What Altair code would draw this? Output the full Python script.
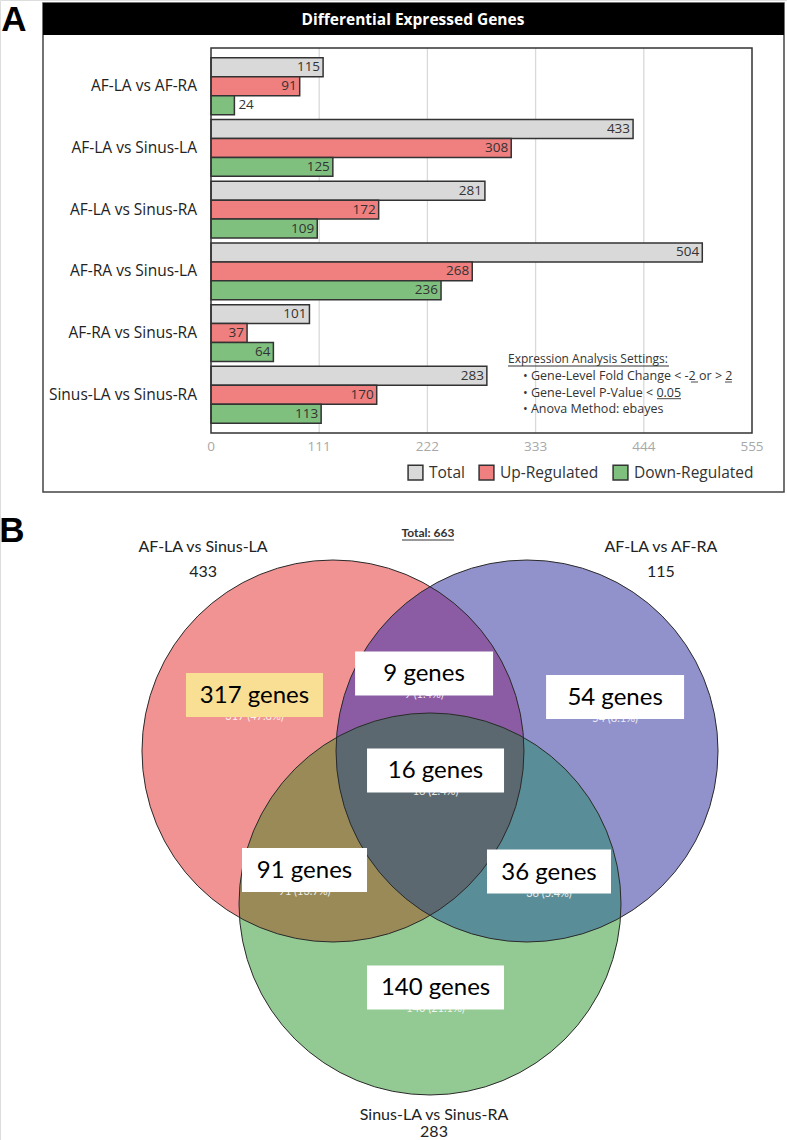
import math
import altair as alt
import pandas as pd

# ---------------- data ----------------
categories = ["AF-LA vs AF-RA", "AF-LA vs Sinus-LA", "AF-LA vs Sinus-RA",
              "AF-RA vs Sinus-LA", "AF-RA vs Sinus-RA", "Sinus-LA vs Sinus-RA"]
series = ["Total", "Up-Regulated", "Down-Regulated"]
total_vals = [115, 433, 281, 504, 101, 283]
up_vals = [91, 308, 172, 268, 37, 170]
down_vals = [24, 125, 109, 236, 64, 113]
x_ticks = [0, 111, 222, 333, 444, 555]

chart_title = "Differential Expressed Genes"
settings_title = "Expression Analysis Settings:"
settings_lines = ["• Gene-Level Fold Change < -2 or > 2",
                  "• Gene-Level P-Value < 0.05",
                  "• Anova Method: ebayes"]

venn_sets = ["AF-LA vs Sinus-LA", "AF-LA vs AF-RA", "Sinus-LA vs Sinus-RA"]
venn_set_totals = [433, 115, 283]
venn_regions = ["LA only", "LA&AF", "AF only", "all", "LA&Sinus", "AF&Sinus", "Sinus only"]
venn_counts = [317, 9, 54, 16, 91, 36, 140]
venn_total = 663

# ---------------- layout (pixels / units) ----------------
W, H = 787, 1140
FA = "Open Sans"
FB = "Lato"
PX = [211, 752]
PY = [48, 433]

# Venn: unit = circle radius
VR = 191.0
VCX, VCY = 430.0, 751.0
vx_dom = [-VCX / VR, (W - VCX) / VR]
vy_dom = [-(H - VCY) / VR, VCY / VR]
circle_centers = {"AF-LA vs Sinus-LA": (-0.508, 0.0),
                  "AF-LA vs AF-RA": (0.508, 0.0),
                  "Sinus-LA vs Sinus-RA": (0.0, -0.801)}
single_colors = {"AF-LA vs Sinus-LA": "#f19393",
                 "AF-LA vs AF-RA": "#9191cb",
                 "Sinus-LA vs Sinus-RA": "#93c993"}
overlap_colors = {"LA&AF": "#8b5ba4", "LA&Sinus": "#998a57",
                  "AF&Sinus": "#598d98", "all": "#5b6870"}
set_label_pos = {"AF-LA vs Sinus-LA": (-1.188, 1.068, 0.937),
                 "AF-LA vs AF-RA": (1.209, 1.068, 0.937),
                 "Sinus-LA vs Sinus-RA": (0.021, -1.906, -1.995)}
region_pos = {"LA only": (-0.919, 0.293, 137),
              "LA&AF": (-0.031, 0.406, 138),
              "AF only": (0.969, 0.283, 138),
              "all": (0.029, -0.102, 137),
              "LA&Sinus": (-0.657, -0.623, 125),
              "AF&Sinus": (0.623, -0.631, 124),
              "Sinus only": (0.029, -1.238, 137)}
BOX_H = 44.0


# ---------- Venn overlap outlines (geometry of unit circles) ----------
def inter(c1, c2):
    (x1, y1), (x2, y2) = c1, c2
    dx, dy = x2 - x1, y2 - y1
    d = math.hypot(dx, dy)
    h = math.sqrt(1 - (d / 2) ** 2)
    mx, my = x1 + dx / 2, y1 + dy / 2
    return [(mx - h * dy / d, my + h * dx / d), (mx + h * dy / d, my - h * dx / d)]


def arc(o, p1, p2, n=60):
    a1 = math.atan2(p1[1] - o[1], p1[0] - o[0])
    a2 = math.atan2(p2[1] - o[1], p2[0] - o[0])
    da = a2 - a1
    while da > math.pi:
        da -= 2 * math.pi
    while da < -math.pi:
        da += 2 * math.pi
    return [(o[0] + math.cos(a1 + da * t / n), o[1] + math.sin(a1 + da * t / n))
            for t in range(n + 1)]


def to_path(pts):
    # symbol path: unit = radius, svg y downwards
    return "M" + " L".join(f"{x:.4f},{-y:.4f}" for x, y in pts) + " Z"


def inside(p, c):
    return math.hypot(p[0] - c[0], p[1] - c[1]) < 1 - 1e-9


cA = circle_centers["AF-LA vs Sinus-LA"]
cB = circle_centers["AF-LA vs AF-RA"]
cC = circle_centers["Sinus-LA vs Sinus-RA"]


def lens(p, q):
    i1, i2 = inter(p, q)
    return to_path(arc(p, i1, i2) + arc(q, i2, i1))


vAB = [p for p in inter(cA, cB) if inside(p, cC)][0]
vAC = [p for p in inter(cA, cC) if inside(p, cB)][0]
vBC = [p for p in inter(cB, cC) if inside(p, cA)][0]
triple = to_path(arc(cB, vAB, vBC) + arc(cC, vBC, vAC) + arc(cA, vAC, vAB))
overlap_shapes = {"LA&AF": lens(cA, cB), "LA&Sinus": lens(cA, cC),
                  "AF&Sinus": lens(cB, cC), "all": triple}
overlap_order = ["LA&AF", "LA&Sinus", "AF&Sinus", "all"]


def xs():
    return alt.Scale(domain=[0, 555], range=PX, nice=False, zero=True)


def ys():
    return alt.Scale(type="band", domain=categories, range=PY,
                     paddingInner=0.08, paddingOuter=0.16)


def yos():
    return alt.Scale(type="band", domain=series, paddingInner=0, paddingOuter=0)


def vxs():
    return alt.Scale(domain=vx_dom, nice=False, zero=False)


def vys():
    return alt.Scale(domain=vy_dom, nice=False, zero=False)


one = pd.DataFrame({"k": [0]})


def box(x, x2, y, y2, **kw):
    return alt.Chart(one).mark_rect(**kw).encode(
        x=alt.value(x), x2=alt.value(x2), y=alt.value(y), y2=alt.value(y2))


def label(s, x, y, **kw):
    return alt.Chart(pd.DataFrame({"t": [s]})).mark_text(**kw).encode(
        x=alt.value(x), y=alt.value(y), text="t:N")


def hline(x, x2, y, **kw):
    return alt.Chart(one).mark_rule(**kw).encode(
        x=alt.value(x), x2=alt.value(x2), y=alt.value(y))


# ---------------- panel A ----------------
rows = []
for i, c in enumerate(categories):
    for s, vals in zip(series, [total_vals, up_vals, down_vals]):
        rows.append({"comparison": c, "series": s, "value": vals[i]})
bars_df = pd.DataFrame(rows)

outer = box(43, 784, 3, 492, fill="white", stroke="#444444", strokeWidth=1.5)
title_bar = box(43, 784, 3, 35, fill="black")
title_txt = label(chart_title, 413, 20, font=FA, fontSize=15.5, fontWeight="bold",
                  color="white", baseline="middle", align="center")
letter_a = label("A", 14, 31, font="Liberation Sans", fontSize=35, fontWeight="bold",
                 color="black", align="center", baseline="alphabetic")

grid = alt.Chart(pd.DataFrame({"tick": x_ticks[1:-1]})).mark_rule(
    color="#d9d9d9", strokeWidth=1.3).encode(
    x=alt.X("tick:Q", scale=xs(), axis=None),
    y=alt.value(PY[0]), y2=alt.value(PY[1]))

tick_lbl = alt.Chart(pd.DataFrame({"tick": x_ticks})).mark_text(
    font=FA, fontSize=13.5, color="#a8a8a8", baseline="middle", align="center").encode(
    x=alt.X("tick:Q", scale=xs(), axis=None),
    y=alt.value(447), text="tick:Q")

enc = dict(
    x=alt.X("value:Q", scale=xs(), axis=None),
    y=alt.Y("comparison:N", scale=ys(), axis=None, sort=categories),
    yOffset=alt.YOffset("series:N", scale=yos(), sort=series),
)

bars = alt.Chart(bars_df).mark_bar(stroke="#333333", strokeWidth=1.5).encode(
    color=alt.Color("series:N",
                    scale=alt.Scale(domain=series, range=["#d9d9d9", "#f07f7f", "#7fc07f"]),
                    legend=alt.Legend(title=None, orient="none", legendX=407, legendY=464,
                                      direction="horizontal", columns=3,
                                      symbolType="square", symbolSize=220,
                                      symbolStrokeColor="#333333", symbolStrokeWidth=1.5,
                                      symbolOpacity=1, labelFont=FA, labelFontSize=15.5,
                                      labelColor="#333333", labelOffset=5,
                                      columnPadding=11, padding=0)),
    **enc)

val_in = alt.Chart(bars_df).transform_filter("datum.value >= 30").mark_text(
    align="right", baseline="middle", dx=-3, font=FA, fontSize=13.5,
    color="#333333").encode(text="value:Q", **enc)
val_out = alt.Chart(bars_df).transform_filter("datum.value < 30").mark_text(
    align="left", baseline="middle", dx=4, font=FA, fontSize=13.5,
    color="#333333").encode(text="value:Q", **enc)

frame = box(PX[0], PX[1], PY[0], PY[1], fill="transparent", stroke="#333333", strokeWidth=1.5)

cat_lbl = alt.Chart(pd.DataFrame({"comparison": categories})).mark_text(
    align="right", baseline="middle", font=FA, fontSize=15.5, color="#222222").encode(
    y=alt.Y("comparison:N", scale=ys(), axis=None, sort=categories),
    x=alt.value(197), text="comparison:N")

set_head = label(settings_title, 508, 359, font=FA, fontSize=12, color="#333333",
                 align="left", baseline="middle")
set_ul = hline(508, 669, 366, color="#333333", strokeWidth=1)
set_body = alt.Chart(pd.DataFrame({"k": [0]})).mark_text(
    font=FA, fontSize=12.5, color="#333333", align="left", baseline="middle",
    lineHeight=16.7).encode(x=alt.value(523), y=alt.value(376),
                            text=alt.value(settings_lines))
ul_2a = hline(691, 698, 382, color="#333333", strokeWidth=0.9)
ul_2b = hline(725, 732, 382, color="#333333", strokeWidth=0.9)
ul_p = hline(657, 681, 398.7, color="#333333", strokeWidth=0.9)

# ---------------- panel B ----------------
circ_df = pd.DataFrame({
    "set": venn_sets,
    "ux": [circle_centers[s][0] for s in venn_sets],
    "uy": [circle_centers[s][1] for s in venn_sets],
})
vx = alt.X("ux:Q", scale=vxs(), axis=None)
vy = alt.Y("uy:Q", scale=vys(), axis=None)

circles = alt.Chart(circ_df).mark_circle(size=(2 * VR) ** 2, opacity=1).encode(
    x=vx, y=vy,
    color=alt.Color("set:N", scale=alt.Scale(domain=venn_sets,
                                             range=[single_colors[s] for s in venn_sets]),
                    legend=None))

ov_df = pd.DataFrame({"region": overlap_order, "ux": [0.0] * 4, "uy": [0.0] * 4})
overlaps = alt.Chart(ov_df).mark_point(size=(2 * VR) ** 2, filled=True, opacity=1,
                                       strokeWidth=0).encode(
    x=vx, y=vy,
    shape=alt.Shape("region:N", scale=alt.Scale(domain=overlap_order,
                                                range=[overlap_shapes[r] for r in overlap_order]),
                    legend=None),
    color=alt.Color("region:N", scale=alt.Scale(domain=overlap_order,
                                                range=[overlap_colors[r] for r in overlap_order]),
                    legend=None))

outlines = alt.Chart(circ_df).mark_point(size=(2 * VR) ** 2, shape="circle", filled=False,
                                         opacity=1, color="#2a2a2a", strokeWidth=1).encode(
    x=vx, y=vy)

reg_df = pd.DataFrame({
    "region": venn_regions,
    "count": venn_counts,
    "ux": [region_pos[r][0] for r in venn_regions],
    "uy": [region_pos[r][1] for r in venn_regions],
    "bw": [region_pos[r][2] for r in venn_regions],
})
reg_df["x1"] = reg_df["ux"] - reg_df["bw"] / 2 / VR
reg_df["x2"] = reg_df["ux"] + reg_df["bw"] / 2 / VR
reg_df["y1"] = reg_df["uy"] - BOX_H / 2 / VR
reg_df["y2"] = reg_df["uy"] + BOX_H / 2 / VR

reg_sub = alt.Chart(reg_df).transform_calculate(
    sub=f"datum.count + ' (' + format(datum.count / {venn_total}, '.1%') + ')'").mark_text(
    font=FB, fontSize=11, color="white", opacity=0.85, baseline="middle", align="center",
    dy=BOX_H / 2).encode(x=vx, y=vy, text="sub:N")

reg_box = alt.Chart(reg_df).mark_rect().encode(
    x=alt.X("x1:Q", scale=vxs(), axis=None), x2="x2:Q",
    y=alt.Y("y1:Q", scale=vys(), axis=None), y2="y2:Q",
    fill=alt.condition("datum.region == 'LA only'", alt.value("#f9df94"), alt.value("white")))

reg_txt = alt.Chart(reg_df).transform_calculate(
    lbl="datum.count + ' genes'").mark_text(
    font=FB, fontSize=24, color="black", baseline="middle", align="center", dy=1).encode(
    x=vx, y=vy, text="lbl:N")

set_df = pd.DataFrame({
    "set": venn_sets,
    "total": venn_set_totals,
    "ux": [set_label_pos[s][0] for s in venn_sets],
    "uy": [set_label_pos[s][1] for s in venn_sets],
    "uy2": [set_label_pos[s][2] for s in venn_sets],
})
set_name = alt.Chart(set_df).mark_text(
    font=FB, fontSize=16, color="#222222", baseline="middle", align="center").encode(
    x=vx, y=vy, text="set:N")
set_tot = alt.Chart(set_df).mark_text(
    font=FB, fontSize=16, color="#222222", baseline="middle", align="center").encode(
    x=vx, y=alt.Y("uy2:Q", scale=vys(), axis=None), text="total:Q")

total_txt = alt.Chart(pd.DataFrame({"t": [f"Total: {venn_total}"]})).mark_text(
    font=FB, fontSize=12, fontWeight="bold", color="#333333", baseline="middle",
    align="center").encode(x=alt.value(428), y=alt.value(533), text="t:N")
total_ul = hline(402, 454, 540, color="#333333", strokeWidth=1)

letter_b = label("B", 12, 542, font="Liberation Sans", fontSize=35, fontWeight="bold",
                 color="black", align="center", baseline="alphabetic")

layers = [outer, title_bar, title_txt, letter_a, grid, bars, val_in, val_out, frame,
          tick_lbl, cat_lbl, set_head, set_ul, set_body, ul_2a, ul_2b, ul_p,
          circles, overlaps, outlines, reg_sub, reg_box, reg_txt, set_name, set_tot,
          total_txt, total_ul, letter_b]

chart = alt.layer(*layers).resolve_scale(
    x="independent", y="independent", color="independent", yOffset="independent",
    fill="independent", shape="independent"
).properties(
    width=W, height=H, padding=0,
    autosize=alt.AutoSizeParams(type="none"),
    background="white",
).configure_view(stroke=None).configure(font=FA)

chart.save("out.html", embed_options={"renderer": "svg", "actions": False})
